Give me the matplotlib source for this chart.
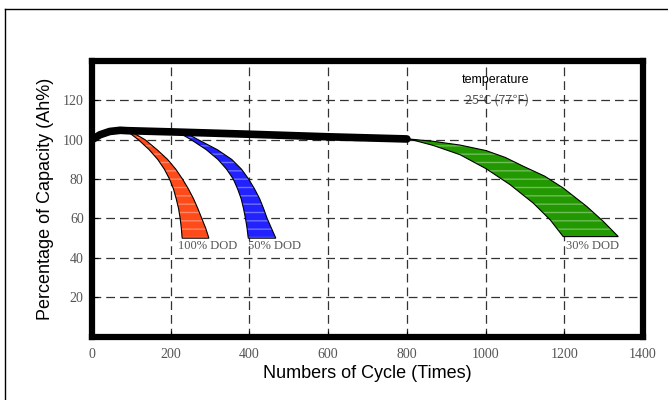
import numpy as np
import matplotlib.pyplot as plt
from matplotlib.lines import Line2D

# common trend line (cycles, capacity %)
trend_x = [0, 20, 45, 72, 90, 200, 400, 600, 800]
trend_y = [100, 102.5, 104.2, 104.8, 104.6, 104.0, 102.8, 101.5, 100.4]

# capacity levels shared by the 100% / 50% DOD band edges
band_v = [103.5, 100, 95, 90, 85, 80, 75, 70, 65, 60, 55, 50]

# 100% DOD band (cycles at each capacity level)
red_left_x = [95, 118, 145, 167, 184, 197, 207, 214, 220, 224, 227, 229]
red_right_x = [105, 135, 165, 192, 213, 230, 245, 258, 269, 279, 289, 297]

# 50% DOD band
blue_left_x = [222, 252, 290, 320, 342, 359, 370, 379, 385, 390, 394, 397]
blue_right_x = [238, 270, 318, 355, 380, 398, 413, 426, 436, 445, 456, 467]

# 30% DOD band
green_upper_x = [805, 867, 935, 1001, 1050, 1096, 1150, 1197, 1257, 1299, 1337]
green_upper_y = [100.4, 99.2, 97.3, 94.5, 91.0, 86.5, 81.5, 75.5, 66.1, 58.5, 50.8]
green_lower_x = [805, 867, 935, 1001, 1062, 1121, 1164, 1197]
green_lower_y = [100.4, 97.1, 92.4, 85.3, 77.2, 67.8, 59.3, 50.8]

bands = [
    (red_left_x, band_v, red_right_x, band_v, "#ff4a1a"),
    (blue_left_x, band_v, blue_right_x, band_v, "#2222ff"),
    (green_lower_x, green_lower_y, green_upper_x, green_upper_y, "#229900"),
]

dod_labels = ["100% DOD", "50% DOD", "30% DOD"]
dod_label_x = [219, 397, 1204]
dod_label_y = [45.8, 45.8, 45.8]

xticks = [0, 200, 400, 600, 800, 1000, 1200, 1400]
yticks = [20, 40, 60, 80, 100, 120]

serif = "Liberation Serif"
sans = "Liberation Sans"

fig = plt.figure(figsize=(6.68, 4.0), dpi=100)
ax = fig.add_axes([0.1377, 0.1585, 0.825, 0.689])

for lx, ly, rx, ry, col in bands:
    px = list(lx) + list(rx)[::-1]
    py = list(ly) + list(ry)[::-1]
    ax.fill(px, py, facecolor=col, edgecolor="none", zorder=2)
    ax.fill(px, py, facecolor="none", edgecolor="white", hatch="--",
            linewidth=0, alpha=0.35, zorder=2.1)
    ax.fill(px, py, facecolor="none", edgecolor="black", linewidth=0.8, zorder=2.2)

ax.plot(trend_x, trend_y, color="black", linewidth=5.5, solid_capstyle="round",
        solid_joinstyle="round", zorder=3)

for lab, tx, ty in zip(dod_labels, dod_label_x, dod_label_y):
    ax.text(tx, ty, lab, fontsize=9, family=serif, color="#555555", va="center", ha="left", zorder=4)

ax.text(1025, 130.5, "temperature", fontsize=9, family=sans, ha="center", va="center", zorder=4)
ax.text(1028, 120, "25\u2103 (77\u2109)", fontsize=9, family=["Noto Sans CJK SC", serif],
        color="#555555", ha="center", va="center", zorder=0.5)

ax.set_xlim(0, 1400)
ax.set_ylim(0, 140)
ax.set_xticks(xticks)
ax.set_yticks(yticks)
ax.set_xticklabels([str(t) for t in xticks], family=serif, color="#555555", fontsize=10)
ax.set_yticklabels([str(t) for t in yticks], family=serif, color="#555555", fontsize=10)
ax.tick_params(direction="in", length=4, width=0.8, pad=8)
ax.tick_params(axis="y", pad=6)

ax.grid(True, color="#333333", linestyle=(0, (7, 4)), linewidth=0.9)
ax.set_axisbelow("line")

for s in ax.spines.values():
    s.set_linewidth(4.5)
    s.set_color("black")

ax.set_xlabel("Numbers of Cycle (Times)", family=sans, fontsize=13, labelpad=3)
ax.set_ylabel("Percentage of Capacity (Ah%)", family=sans, fontsize=13, labelpad=6)

# thin outer frame (left and top)
fig.add_artist(Line2D([5 / 668, 5 / 668], [0, 1 - 9 / 400], transform=fig.transFigure,
                      color="black", linewidth=1))
fig.add_artist(Line2D([5 / 668, 1], [1 - 9 / 400, 1 - 9 / 400], transform=fig.transFigure,
                      color="black", linewidth=1))

fig.savefig("out.png", dpi=100)
